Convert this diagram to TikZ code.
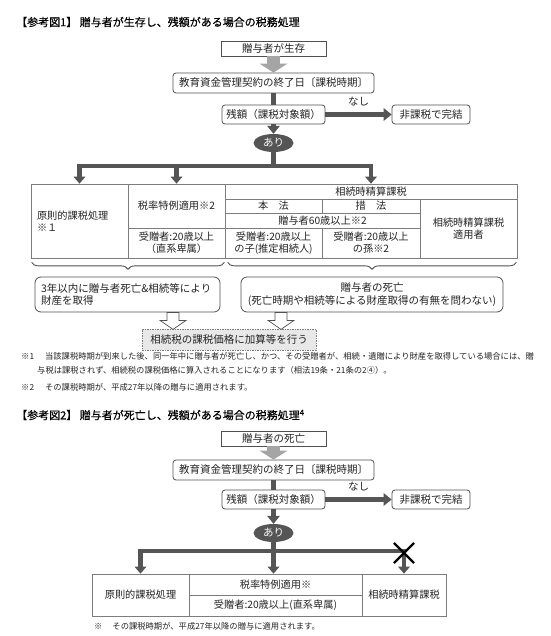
\documentclass[tikz,border=0pt]{standalone}
\usepackage{fontspec}
\setmainfont{Noto Sans CJK JP}
\newfontfamily\headfont{Noto Sans CJK JP}[FakeBold=0.4]
\definecolor{zkline}{RGB}{80,80,80}
\definecolor{zkarrow}{RGB}{85,85,85}
\definecolor{zkgrid}{RGB}{125,125,125}
\definecolor{zkpale}{RGB}{165,165,165}
\definecolor{zkfill}{RGB}{232,232,232}
\definecolor{zktext}{RGB}{35,35,35}
\newcommand\boxfont{\fontsize{10.5}{12.5}\selectfont}
\newcommand\cellfont{\fontsize{10.2}{12.2}\selectfont}
\newcommand\notefont{\fontsize{8.3}{14}\selectfont}
\newcommand\headsize{\fontsize{11}{13}\selectfont}
\usetikzlibrary{arrows.meta,positioning,shapes.geometric,shapes.misc,calc,decorations.pathreplacing}

\begin{document}
\begin{tikzpicture}[x=1pt,y=-1pt,
  zktip/.tip={Triangle[width=13pt,length=8pt,line width=0pt]},
  zksmalltip/.tip={Triangle[width=12pt,length=7pt,line width=0pt]},
  zkpaletip/.tip={Triangle[width=28pt,length=9pt,line width=0pt]},
  zkbox/.style={draw=zkline,fill=white,line width=0.8pt,inner sep=0pt,
    align=center,font=\boxfont,text=zktext},
  zkround/.style={zkbox,rounded corners=3pt},
  zkcell/.style={draw=zkgrid,line width=0.7pt,inner sep=0pt,align=center,
    font=\cellfont,text=zktext},
  zkari/.style={ellipse,fill=zkarrow,text=white,font=\boxfont,inner sep=0pt,
    minimum width=40pt,minimum height=18pt},
  zkbar/.style={line width=5.5pt,draw=zkarrow},
  zkarr/.style={zkbar,-zktip},
  zkdown/.style={line width=4.5pt,draw=zkarrow,-zksmalltip},
  zkfork/.style={line width=4.5pt,draw=zkarrow,line join=miter,zksmalltip-zksmalltip},
  zkpalearr/.style={line width=13pt,draw=zkpale,-zkpaletip},
  zkopen/.pic={\draw[draw=zkline,fill=white,line width=0.7pt,line join=miter]
    (-6,0) -- (6,0) -- (6,8) -- (13,8) -- (0,17) -- (-13,8) -- (-6,8) -- cycle;},
  zkbrace/.style={draw=zkline,line width=0.9pt,decorate,
    decoration={brace,mirror,amplitude=7pt}},
  zknote/.style={anchor=west,inner sep=0pt,font=\notefont,text=zktext,align=left},
  zkhead/.style={anchor=west,inner sep=0pt,font=\headfont\headsize,text=black}
]
\useasboundingbox (0,0) rectangle (550,636);

% Figure 1
\node[zkhead] (title1) at (16,22) {【参考図1】 贈与者が生存し、残額がある場合の税務処理};

\node[zkbox,minimum width=105pt,minimum height=15pt] (give1) at (273.5,48.5) {贈与者が生存};
\node[zkround,minimum width=201pt,minimum height=20pt] (end1) at (273.5,83) {教育資金管理契約の終了日〔課税時期〕};
\node[zkround,minimum width=103pt,minimum height=19pt] (rest1) at (273.5,114.5) {残額（課税対象額）};
\node[zkround,minimum width=78pt,minimum height=19pt] (free1) at (431,114.5) {非課税で完結};
\node[zkari] (ari1) at (273.5,143) {あり};
\coordinate (fork1) at (273.5,166);

\draw[zkpalearr] (give1) -- (end1);
\draw[zkbar] (end1) -- (rest1);
\draw[zkarr] (rest1) -- (free1) node[midway,above=6pt,inner sep=0pt,font=\boxfont,text=zktext] (nashi1) {なし};
\draw[zkarr] (rest1) -- (ari1);

% table 1
\node[zkcell,minimum width=97pt,minimum height=74pt,text width=85pt,align=left] (t1) at (79.5,221) {原則的課税処理\\※１};
\node[zkcell,minimum width=97pt,minimum height=44pt] (t2) at (176.5,206) {税率特例適用※2};
\node[zkcell,minimum width=97pt,minimum height=30pt] (t2b) at (176.5,243) {受贈者:20歳以上\\（直系卑属）};
\node[zkcell,minimum width=292pt,minimum height=15pt] (t3) at (371,191.5) {相続時精算課税};
\node[zkcell,minimum width=97pt,minimum height=14pt] (t4) at (273.5,206) {本　法};
\node[zkcell,minimum width=98pt,minimum height=14pt] (t5) at (371,206) {措　法};
\node[zkcell,minimum width=195pt,minimum height=15pt] (t6) at (322.5,220.5) {贈与者60歳以上※2};
\node[zkcell,minimum width=97pt,minimum height=30pt] (t7) at (273.5,243) {受贈者:20歳以上\\の子(推定相続人)};
\node[zkcell,minimum width=98pt,minimum height=30pt] (t8) at (371,243) {受贈者:20歳以上\\の孫※2};
\node[zkcell,minimum width=97pt,minimum height=59pt] (t9) at (468.5,228.5) {相続時精算課税\\適用者};

\draw[zkbar] (ari1) -- (fork1);
\draw[zkfork] (t1.north) |- (fork1) -| (t3.north);
\draw[zkdown] (fork1 -| t2.north) -- (t2.north);

% braces and results
\draw[zkbrace] ($(t1.south west)+(1,4)$) -- ($(t2b.south east)+(-1,4)$);
\draw[zkbrace] ($(t7.south west)+(3,4)$) -- ($(t9.south east)+(-1,4)$);

\node[zkbox,rounded corners=6pt,minimum height=35pt,text width=173pt,inner xsep=6pt,align=left] (soon1) at (127.5,294.5) {3年以内に贈与者死亡\&相続等により\\財産を取得};
\node[zkbox,rounded corners=6pt,minimum width=262pt,minimum height=35pt] (death1) at (372,294.5) {贈与者の死亡\\(死亡時期や相続等による財産取得の有無を問わない)};
\node[zkbox,draw=zkgrid,fill=zkfill,dash pattern=on 1.5pt off 1pt,minimum width=174pt,minimum height=21pt] (add1) at (229,339.5) {相続税の課税価格に加算等を行う};
\pic at (soon1.south -| 173,0) {zkopen};
\pic at (death1.south -| 281,0) {zkopen};

% notes
\node[zknote] (note1) at (21,363) {※1\hspace{11pt}当該課税時期が到来した後、同一年中に贈与者が死亡し、かつ、その受贈者が、相続・遺贈により財産を取得している場合には、贈\\\hspace*{16pt}与税は課税されず、相続税の課税価格に算入されることになります（相法19条・21条の2④）。};
\node[zknote] (note2) at (21,387) {※2\hspace{11pt}その課税時期が、平成27年以降の贈与に適用されます。};

% Figure 2
\node[zkhead] (title2) at (16,415) {【参考図2】 贈与者が死亡し、残額がある場合の税務処理\textsuperscript{4}};

\node[zkbox,minimum width=105pt,minimum height=15pt] (give2) at (273.5,438.5) {贈与者の死亡};
\node[zkround,minimum width=201pt,minimum height=20pt] (end2) at (273.5,470) {教育資金管理契約の終了日〔課税時期〕};
\node[zkround,minimum width=103pt,minimum height=19pt] (rest2) at (273.5,499.5) {残額（課税対象額）};
\node[zkround,minimum width=78pt,minimum height=19pt] (free2) at (431,499.5) {非課税で完結};
\node[zkari] (ari2) at (273.5,533) {あり};
\coordinate (fork2) at (273.5,551);

\draw[zkpalearr] (give2) -- (end2);
\draw[zkbar] (end2) -- (rest2);
\draw[zkarr] (rest2) -- (free2) node[midway,above=6pt,inner sep=0pt,font=\boxfont,text=zktext] (nashi2) {なし};
\draw[zkarr] (rest2) -- (ari2);

% table 2
\node[zkcell,minimum width=97pt,minimum height=42pt] (u1) at (140.5,595) {原則的課税処理};
\node[zkcell,minimum width=173pt,minimum height=21pt] (u2) at (275.5,584.5) {税率特例適用※};
\node[zkcell,minimum width=173pt,minimum height=21pt] (u2b) at (275.5,605.5) {受贈者:20歳以上(直系卑属)};
\node[zkcell,minimum width=84pt,minimum height=42pt] (u3) at (404,595) {相続時精算課税};

\draw[zkbar] (ari2) -- (fork2);
\draw[zkfork] (u1.north) |- (fork2) -| (u3.north);
\draw[zkdown] (fork2) -- (fork2 |- u2.north);
\node[cross out,draw=black,line width=2.2pt,minimum size=18pt,inner sep=0pt] (nox) at (404,553) {};

\node[zknote] (note3) at (94,626) {※\hspace{10pt}その課税時期が、平成27年以降の贈与に適用されます。};
\end{tikzpicture}
\end{document}
